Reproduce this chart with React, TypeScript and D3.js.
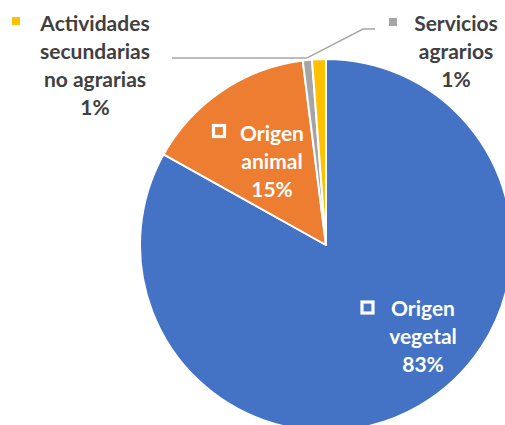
import { useEffect, useRef } from "react";
import * as d3 from "d3";

// data
const categories = ["Origen vegetal", "Origen animal", "Servicios agrarios", "Actividades secundarias no agrarias"];
const values = [83.1, 14.9, 0.8, 1.2];
const pctLabels = ["83%", "15%", "1%", "1%"];
const colors = ["#4472C4", "#ED7D31", "#A5A5A5", "#FFC000"];

// label layout (text lines, centre x, first baseline, marker placement)
const labelLines = [
    ["Origen", "vegetal", "83%"],
    ["Origen", "animal", "15%"],
    ["Servicios", "agrarios", "1%"],
    ["Actividades", "secundarias", "no agrarias", "1%"],
];

const W = 505;
const H = 425;

const App = () => {
    const svgRef = useRef(null);

    useEffect(() => {
        const svg = d3.select(svgRef.current);
        svg.selectAll("*").remove();

        const cx = 326;
        const cy = 245;
        const r = 186;
        const fontFamily = "Lato, 'Liberation Sans', sans-serif";
        const fontSize = 21;
        const lineH = 28;

        const data = values.map((v, i) => ({ name: categories[i], value: v, i }));
        const pie = d3.pie().value((d) => d.value).sort(null).startAngle(0).endAngle(2 * Math.PI);
        const arcs = pie(data);
        const arc = d3.arc().innerRadius(0).outerRadius(r);

        const g = svg.append("g").attr("transform", `translate(${cx},${cy})`);

        g.selectAll("path")
            .data(arcs)
            .enter()
            .append("path")
            .attr("d", arc)
            .attr("fill", (d) => colors[d.data.i])
            .attr("stroke", "#fff")
            .attr("stroke-width", 2)
            .attr("stroke-linejoin", "round");

        // leader lines: both go to the outer edge of the gray slice
        const grey = arcs[2];
        const mid = (grey.startAngle + grey.endAngle) / 2;
        const ex = cx + (r + 2) * Math.sin(mid);
        const ey = cy - (r + 2) * Math.cos(mid);

        const line = d3.line();
        svg.append("path")
            .attr("d", line([[375, 29], [363, 29], [ex, ey]]))
            .attr("fill", "none")
            .attr("stroke", "#A6A6A6")
            .attr("stroke-width", 1.5);
        svg.append("path")
            .attr("d", line([[172, 58], [ex, ey]]))
            .attr("fill", "none")
            .attr("stroke", "#A6A6A6")
            .attr("stroke-width", 1.5);

        // labels
        const labelPos = [
            { x: 423, y: 316, color: "#fff", mx: 367.5, my: 307.5, hollow: true },
            { x: 272, y: 141, color: "#fff", mx: 219, my: 131, hollow: true },
            { x: 456, y: 31, color: "#404040", mx: 393, my: 22, hollow: false },
            { x: 95, y: 31, color: "#404040", mx: 16, my: 21, hollow: false },
        ];

        labelLines.forEach((lines, i) => {
            const p = labelPos[i];
            const t = svg.append("text")
                .attr("text-anchor", "middle")
                .attr("font-family", fontFamily)
                .attr("font-weight", 700)
                .attr("font-size", fontSize)
                .attr("fill", p.color);
            lines.forEach((s, k) => {
                t.append("tspan")
                    .attr("x", p.x)
                    .attr("y", p.y + k * lineH)
                    .text(k === lines.length - 1 ? pctLabels[i] : s);
            });
            if (p.hollow) {
                svg.append("rect")
                    .attr("x", p.mx - 5.5)
                    .attr("y", p.my - 5.5)
                    .attr("width", 11)
                    .attr("height", 11)
                    .attr("fill", colors[i])
                    .attr("stroke", "#fff")
                    .attr("stroke-width", 3.2);
            } else {
                svg.append("rect")
                    .attr("x", p.mx - 4)
                    .attr("y", p.my - 4)
                    .attr("width", 8)
                    .attr("height", 8)
                    .attr("fill", colors[i]);
            }
        });
    }, []);

    return (
        <svg
            ref={svgRef}
            width={W}
            height={H}
            viewBox={`0 0 ${W} ${H}`}
            style={{ position: "absolute", left: 0, top: 0 }}
        ></svg>
    );
};

export default App;
